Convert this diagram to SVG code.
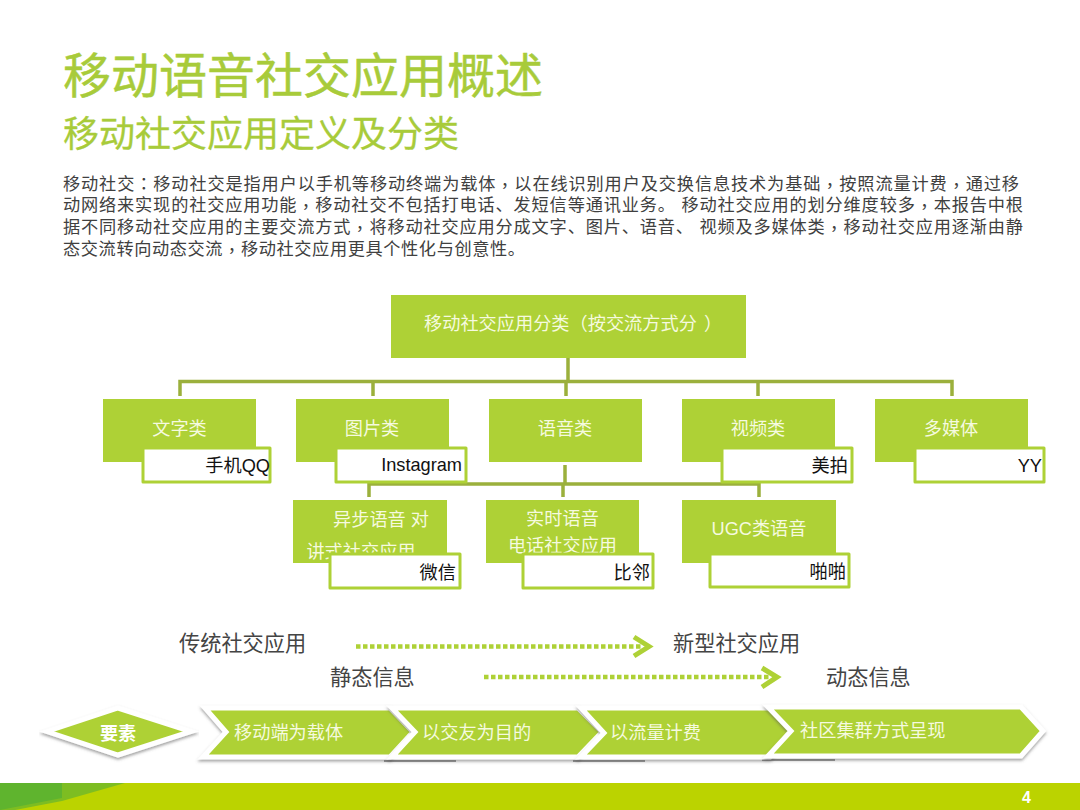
<svg xmlns="http://www.w3.org/2000/svg" width="1080" height="810" viewBox="0 0 1080 810">
<style>
text{font-family:"Liberation Sans","Noto Sans CJK SC",sans-serif}
.tc{font-family:"Liberation Sans","Noto Sans CJK TC",sans-serif}
.box{fill:#aed136}
.sub{fill:#fff;stroke:#aed136;stroke-width:3;stroke-linejoin:round}
.lbl{fill:#f5fadf;font-size:18.200px;text-anchor:middle}
.val{fill:#111;font-size:18.200px;text-anchor:end}
.body{fill:#404040;font-size:17.200px}
.cap{fill:#444;font-size:21.200px}
.wire{fill:none;stroke:#9bb03c;stroke-width:3.500}
.dash{fill:none;stroke:#aed136;stroke-width:4.500;stroke-dasharray:4.500 2.500}
.head{fill:none;stroke:#aed136;stroke-width:5}
.chev{fill:#aed136;stroke:#fff;stroke-width:5;stroke-linejoin:miter}
.chevt{fill:#f5fadf;font-size:18.200px}
.under{fill:none;stroke:#6b6b6b;stroke-width:2;stroke-opacity:.7}
</style>
<defs>
<filter id="sh" x="-5%" y="-15%" width="110%" height="135%"><feDropShadow dx="0" dy="2" stdDeviation="1.500" flood-color="#555" flood-opacity=".55"/></filter>
</defs>
<rect width="1080" height="810" fill="#fff"/>
<g id="band">
<rect y="783" width="1080" height="27" fill="#bbd300"/>
<polygon points="0,783 125,783 62,801 15,810 0,810" fill="#7dbd22"/>
<polygon points="0,783 62,783 62,798 0,810" fill="#5fb42e"/>
<text x="1031" y="803" font-size="16" font-weight="bold" fill="#fff" text-anchor="end">4</text>
</g>
<g id="heading">
<text x="63" y="93" font-size="48" fill="#a8cb3a" stroke="#a8cb3a" stroke-width=".5">移动语音社交应用概述</text>
<text x="63" y="147" font-size="36" fill="#a8cb3a" stroke="#a8cb3a" stroke-width=".3">移动社交应用定义及分类</text>
</g>
<g id="intro">
<text class="body" x="63" y="190" textLength="956" lengthAdjust="spacing">移动社交<tspan class="tc">：</tspan>移动社交是指用户以手机等移动终端为载体<tspan class="tc" dy="2">，</tspan><tspan dy="-2">以在线识别用户及交换信息技术为基础</tspan><tspan class="tc" dy="2">，</tspan><tspan dy="-2">按照流量计费</tspan><tspan class="tc" dy="2">，</tspan><tspan dy="-2">通过移</tspan></text>
<text class="body" x="63" y="211" textLength="960" lengthAdjust="spacing">动网络来实现的社交应用功能<tspan class="tc" dy="2">，</tspan><tspan dy="-2">移动社交不包括打电话、发短信等通讯业务。 移动社交应用的划分维度较多</tspan><tspan class="tc" dy="2">，</tspan><tspan dy="-2">本报告中根</tspan></text>
<text class="body" x="63" y="233" textLength="960" lengthAdjust="spacing">据不同移动社交应用的主要交流方式<tspan class="tc" dy="2">，</tspan><tspan dy="-2">将移动社交应用分成文字、图片、语音、 视频及多媒体类</tspan><tspan class="tc" dy="2">，</tspan><tspan dy="-2">移动社交应用逐渐由静</tspan></text>
<text class="body" x="63" y="255" textLength="462" lengthAdjust="spacing">态交流转向动态交流<tspan class="tc" dy="2">，</tspan><tspan dy="-2">移动社交应用更具个性化与创意性。</tspan></text>
</g>
<g id="connectors">
<path class="wire" d="M568 358V381M180 396V381.500H952V396M373 381.500V396M566 381.500V396M758 381.500V396"/>
<path class="wire" d="M565 465V484M369 497V484H759V497M563 484V497"/>
<path class="dash" d="M356 646.500H642"/>
<path class="head" d="M634 637L649 646.500L634 656"/>
<path class="dash" d="M484 677H769"/>
<path class="head" d="M762 668L777 677L762 687"/>
</g>
<g id="root"><rect class="box" x="391" y="295" width="355" height="63"/><text class="lbl" style="text-anchor:start" x="424" y="330">移动社交应用分类<tspan class="tc">（</tspan>按交流方式分<tspan class="tc" x="704">）</tspan></text></g>
<g id="n-text"><rect class="box" x="103" y="399" width="153" height="63"/><text class="lbl" x="179.500" y="434.500">文字类</text><rect class="sub" x="143" y="448" width="127" height="34"/><text class="val" x="270" y="472">手机QQ</text></g>
<g id="n-image"><rect class="box" x="296" y="399" width="153" height="63"/><text class="lbl" x="372" y="434.500">图片类</text><rect class="sub" x="336" y="448" width="130" height="34"/><text class="val" x="462" y="471">Instagram</text></g>
<g id="n-voice"><rect class="box" x="489" y="399" width="153" height="63"/><text class="lbl" x="565" y="434.500">语音类</text></g>
<g id="n-video"><rect class="box" x="682" y="399" width="153" height="63"/><text class="lbl" x="758" y="434.500">视频类</text><rect class="sub" x="722" y="448" width="130" height="34"/><text class="val" x="848" y="472">美拍</text></g>
<g id="n-media"><rect class="box" x="875" y="399" width="153" height="63"/><text class="lbl" x="951" y="434.500">多媒体</text><rect class="sub" x="915" y="448" width="129" height="34"/><text class="val" x="1042" y="472">YY</text></g>
<g id="n-async"><rect class="box" x="293" y="500" width="154" height="63"/><text class="lbl" x="381" y="526">异步语音 对</text><text class="lbl" x="361" y="558">讲式社交应用</text><rect class="sub" x="330" y="554" width="130" height="34"/><text class="val" x="456" y="579">微信</text></g>
<g id="n-live"><rect class="box" x="486" y="500" width="153" height="63"/><text class="lbl" x="562.500" y="525">实时语音</text><text class="lbl" x="562.500" y="552">电话社交应用</text><rect class="sub" x="523" y="554" width="130" height="34"/><text class="val" x="650" y="579">比邻</text></g>
<g id="n-ugc"><rect class="box" x="682" y="500" width="154" height="63"/><text class="lbl" x="759" y="535">UGC类语音</text><rect class="sub" x="710" y="554" width="139" height="33"/><text class="val" x="846" y="578">啪啪</text></g>
<g id="captions">
<text class="cap" x="179" y="651">传统社交应用</text>
<text class="cap" x="673" y="651">新型社交应用</text>
<text class="cap" x="330" y="685">静态信息</text>
<text class="cap" x="826" y="685">动态信息</text>
</g>
<g id="factors">
<polygon class="chev" filter="url(#sh)" points="47,731.500 118,708 191,731.500 118,755"/>
<text x="118" y="740" font-size="18" font-weight="bold" fill="#fff" text-anchor="middle">要素</text>
<path class="under" d="M384 761H456M573 761H645M762 760H835"/>
<polygon class="chev" filter="url(#sh)" points="205,708 390,708 413,732 390,757 203,757 226,732"/>
<text class="chevt" x="234" y="739">移动端为载体</text>
<polygon class="chev" filter="url(#sh)" points="392,708 578,708 602,732 578,757 392,757 415,732"/>
<text class="chevt" x="422" y="739">以交友为目的</text>
<polygon class="chev" filter="url(#sh)" points="581,708 770,708 794,733 770,757 581,757 604,733"/>
<text class="chevt" x="610" y="739">以流量计费</text>
<polygon class="chev" filter="url(#sh)" points="768,707 1021,707 1043,731 1021,756 768,756 791,731"/>
<text class="chevt" x="800" y="737">社区集群方式呈现</text>
</g>
</svg>
